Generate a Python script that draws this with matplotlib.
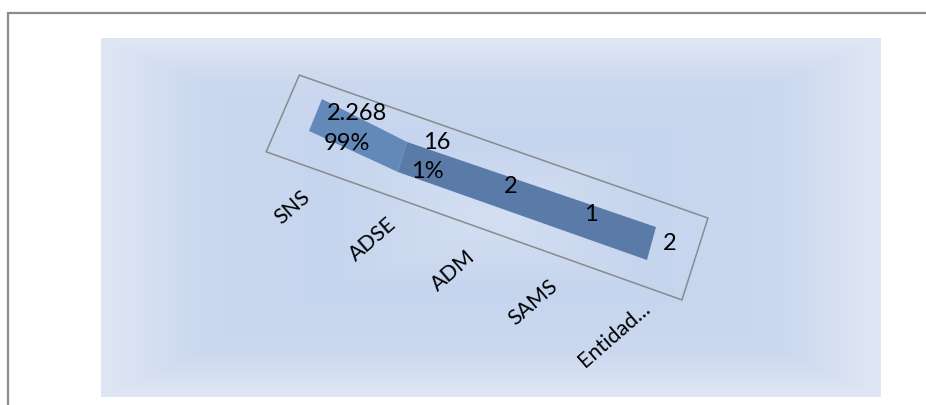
import numpy as np
import matplotlib.pyplot as plt
from matplotlib.patches import Polygon
from matplotlib.transforms import Affine2D
from matplotlib.colors import LinearSegmentedColormap

plt.rcParams['font.family'] = ['Lato', 'DejaVu Sans']

categories = ["SNS", "ADSE", "ADM", "SAMS", "Entidad..."]
values = [2268, 16, 2, 1, 2]
shares = ["99%", "1%", None, None, None]

fig = plt.figure(figsize=(9.26, 4.05), dpi=100)
ax = fig.add_axes([0, 0, 1, 1])
ax.set_xlim(0, 926)
ax.set_ylim(405, 0)
ax.axis('off')

# chart area border (left + top visible)
ax.plot([8, 8, 926], [405, 13, 13], color="#8c8c8c", lw=1.6, solid_joinstyle="miter")

# plot area: rectangular path gradient
H, W = 360, 780
gy, gx = np.mgrid[-1:1:H * 1j, -1:1:W * 1j]
d = np.maximum(np.abs(gx), np.abs(gy))
grad = LinearSegmentedColormap.from_list(
    "bg", [(0.0, "#d4dff2"), (0.4, "#c6d5ee"), (0.75, "#cbd8ef"), (1.0, "#e0e7f4")])
ax.imshow(d, cmap=grad, vmin=0, vmax=1, extent=(101, 881, 397, 38),
          origin="upper", interpolation="bilinear", aspect="auto", zorder=0)

# skewed 3D-ish coordinate system: u = category index, v = offset across band (px)
chart = Affine2D().from_values(79.5, 28.3, -0.34, 1.0, 352, 130) + ax.transData
ticks = Affine2D().from_values(80.5, 32.0, 0, 1.0, 292, 207) + ax.transData

# floor outline
ax.add_patch(Polygon([(-0.80, -32.2), (-0.88, 46.7), (4.35, 46.8), (4.33, -34.5)],
                     closed=True, fill=False, ec="#8a8a8a", lw=1.1, transform=chart, zorder=2))

# band segments (first slice lighter)
ax.add_patch(Polygon([(-0.455, -18.1), (0.663, -6.8), (0.677, 22.9), (-0.479, 14.5)],
                     closed=True, fc="#6389b9", ec="none", transform=chart, zorder=3))
ax.add_patch(Polygon([(0.663, -6.8), (3.781, -10.0), (3.806, 22.3), (0.677, 22.9)],
                     closed=True, fc="#5a7aa8", ec="none", transform=chart, zorder=3))

# data labels
for i, (v, s) in enumerate(zip(values, shares)):
    txt = f"{v:,}".replace(",", ".")
    if s:
        ax.text(i, -16, txt, transform=chart, ha="center", va="center", fontsize=17, zorder=5)
        ax.text(i, 13.5, s, transform=chart, ha="center", va="center", fontsize=17, zorder=5)
    else:
        ax.text(i, 0, txt, transform=chart, ha="center", va="center", fontsize=17, zorder=5)

# category labels
for i, c in enumerate(categories):
    ax.text(i, 0, c, transform=ticks, ha="center", va="center", rotation=41,
            rotation_mode="anchor", fontsize=15.5, zorder=5)

fig.savefig("out.png", dpi=100)
